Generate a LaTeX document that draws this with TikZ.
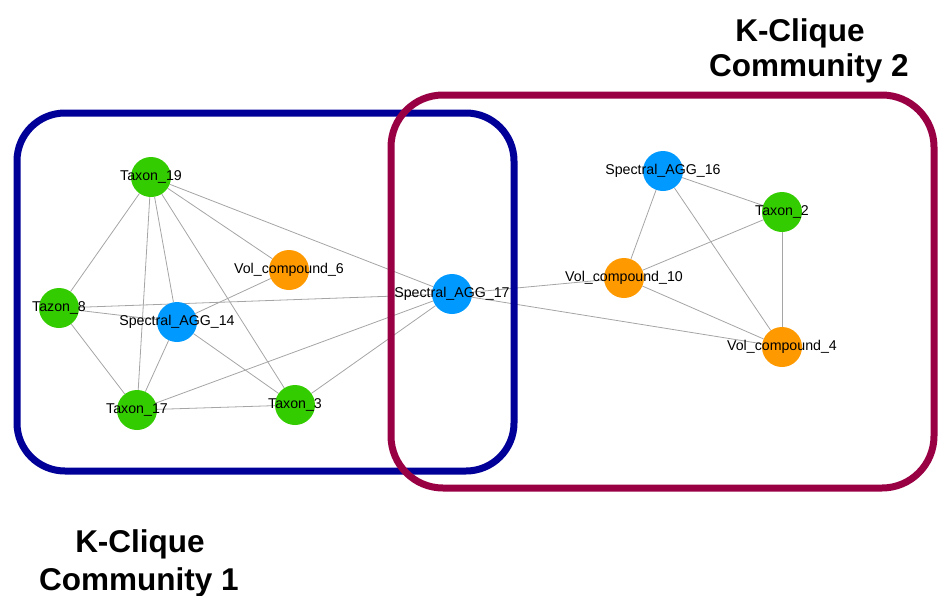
\documentclass[tikz,border=0pt]{standalone}
\usepackage{fontspec}
\setmainfont{Liberation Sans}
\usetikzlibrary{backgrounds}
\definecolor{ngreen}{RGB}{51,204,0}
\definecolor{nblue}{RGB}{0,153,255}
\definecolor{norange}{RGB}{255,153,0}
\definecolor{boxblue}{RGB}{0,0,153}
\definecolor{boxmag}{RGB}{153,0,68}
\definecolor{edgegray}{RGB}{165,165,165}
\begin{document}
\begin{tikzpicture}[x=1pt,y=-1pt,
  vnode/.style={circle,minimum size=40pt,inner sep=0pt,draw=none},
  gnode/.style={vnode,fill=ngreen},
  bnode/.style={vnode,fill=nblue},
  onode/.style={vnode,fill=norange},
  lbl/.style={font=\fontsize{14.2}{17}\selectfont,inner sep=0pt},
  edge/.style={draw=edgegray,line width=0.8pt},
  community/.style={line width=7pt,rounded corners=48pt},
  title/.style={font=\fontsize{31.5}{36}\selectfont\bfseries,anchor=base,inner sep=0pt}]
\useasboundingbox (0,0) rectangle (938,595);

% community boxes
\draw[community,draw=boxblue] (17,113) rectangle (514,471);
\draw[community,draw=boxmag,rounded corners=52pt] (391,95) rectangle (934,488);

% nodes
\node[gnode,label={[lbl]center:Taxon\_19}] (t19) at (151,177) {};
\node[gnode,label={[lbl]center:Tazon\_8}] (t8) at (59,308) {};
\node[bnode,label={[lbl]center:Spectral\_AGG\_14}] (s14) at (177,322) {};
\node[onode,label={[lbl]center:Vol\_compound\_6}] (v6) at (289,270) {};
\node[gnode,label={[lbl]center:Taxon\_17}] (t17) at (137,410) {};
\node[gnode,label={[lbl]center:Taxon\_3}] (t3) at (295,405) {};
\node[bnode,label={[lbl]center:Spectral\_AGG\_17}] (s17) at (452,294) {};
\node[bnode,label={[lbl]center:Spectral\_AGG\_16}] (s16) at (663,171) {};
\node[gnode,label={[lbl]center:Taxon\_2}] (t2) at (782,212) {};
\node[onode,label={[lbl]center:Vol\_compound\_10}] (v10) at (624,278) {};
\node[onode,label={[lbl]center:Vol\_compound\_4}] (v4) at (782,347) {};

% edges
\begin{scope}[on background layer]
\draw[edge] (t19) -- (t8);
\draw[edge] (t19) -- (t17);
\draw[edge] (t19) -- (s14);
\draw[edge] (t19) -- (t3);
\draw[edge] (t19) -- (v6);
\draw[edge] (t19) -- (s17);
\draw[edge] (t8) -- (s14);
\draw[edge] (t8) -- (t17);
\draw[edge] (t8) -- (s17);
\draw[edge] (s14) -- (v6);
\draw[edge] (s14) -- (t17);
\draw[edge] (s14) -- (t3);
\draw[edge] (t17) -- (t3);
\draw[edge] (t17) -- (s17);
\draw[edge] (t3) -- (s17);
\draw[edge] (s17) -- (v10);
\draw[edge] (s17) -- (v4);
\draw[edge] (s16) -- (t2);
\draw[edge] (s16) -- (v10);
\draw[edge] (s16) -- (v4);
\draw[edge] (t2) -- (v10);
\draw[edge] (t2) -- (v4);
\draw[edge] (v10) -- (v4);
\end{scope}

% titles
\node[title] (c2a) at (800,41) {K-Clique};
\node[title] (c2b) at (809,76) {Community 2};
\node[title] (c1a) at (140,552) {K-Clique};
\node[title] (c1b) at (139,590) {Community 1};
\end{tikzpicture}
\end{document}
